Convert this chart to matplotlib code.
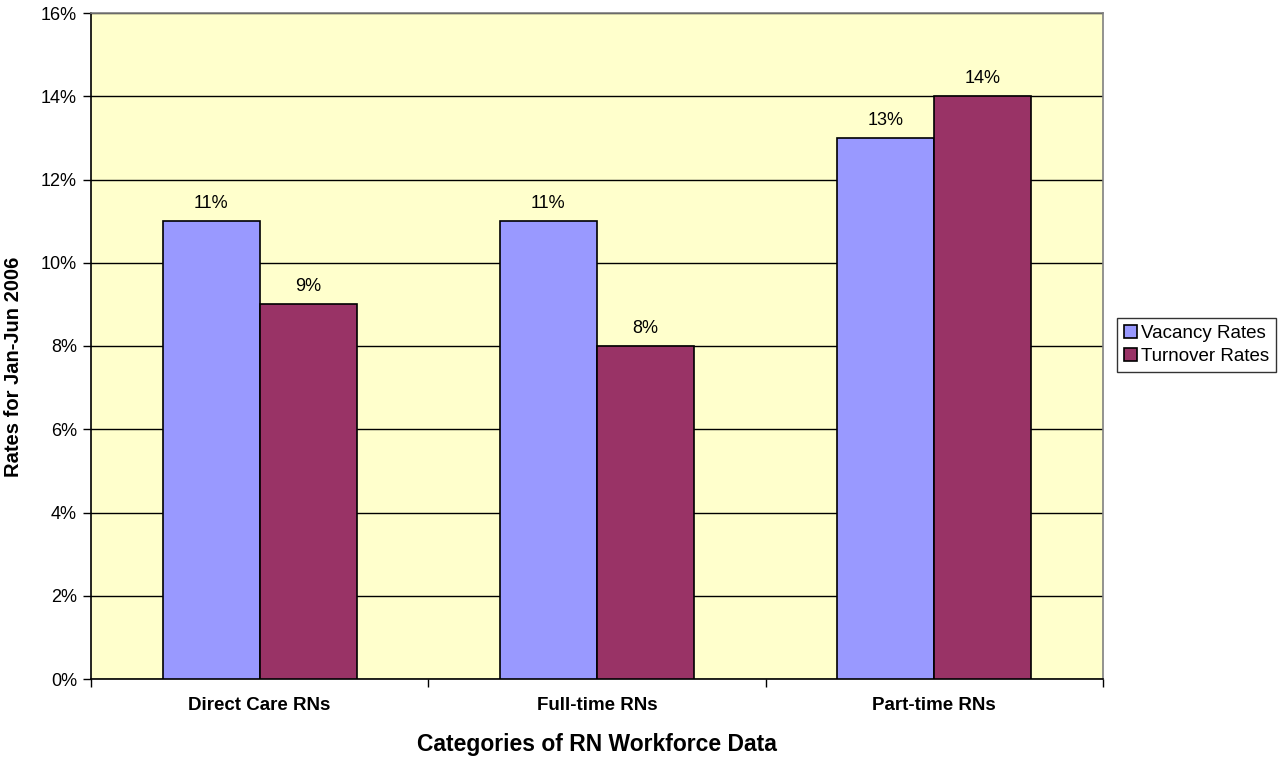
import matplotlib
matplotlib.use("Agg")
import matplotlib.pyplot as plt
import numpy as np
from matplotlib.ticker import FixedLocator, PercentFormatter

categories = ["Direct Care RNs", "Full-time RNs", "Part-time RNs"]
vacancy = [11, 11, 13]
turnover = [9, 8, 14]
series_names = ["Vacancy Rates", "Turnover Rates"]
yticks = [0, 2, 4, 6, 8, 10, 12, 14, 16]

plt.rcParams['font.family'] = ['Liberation Sans', 'DejaVu Sans']

fig = plt.figure(figsize=(12.82, 7.59), dpi=100)
ax = fig.add_axes([91/1282, 80/759, 1012/1282, 666/759])
ax.set_facecolor("#FFFFCC")

x = np.arange(len(categories))
w = 0.288
b1 = ax.bar(x - w/2, vacancy, w, color="#9999FF", edgecolor="black", linewidth=1.2, label=series_names[0], zorder=3)
b2 = ax.bar(x + w/2, turnover, w, color="#993366", edgecolor="black", linewidth=1.2, label=series_names[1], zorder=3)

for bars, vals in ((b1, vacancy), (b2, turnover)):
    for r, v in zip(bars, vals):
        ax.annotate(f"{v}%", (r.get_x() + r.get_width()/2, v), xytext=(0, 9.5),
                    textcoords="offset points", ha="center", va="baseline", fontsize=13)

ax.set_xlim(-0.5, len(categories) - 0.5)
ax.set_ylim(0, 16)
ax.set_yticks(yticks)
ax.yaxis.set_major_formatter(PercentFormatter(decimals=0))
ax.yaxis.grid(True, color="black", linewidth=1, zorder=0)
ax.set_axisbelow(True)

ax.set_xticks(x)
ax.set_xticklabels(categories, fontsize=13.5, fontweight="bold")
ax.xaxis.set_minor_locator(FixedLocator(np.arange(len(categories) + 1) - 0.5))
ax.tick_params(axis="x", which="major", length=0, pad=13)
ax.tick_params(axis="x", which="minor", length=6, width=1, direction="out", color="black")
ax.tick_params(axis="y", length=6, width=1, direction="out", labelsize=13, pad=4)

for s in ("top", "right"):
    ax.spines[s].set_color("#808080")
    ax.spines[s].set_linewidth(1.2)
for s in ("left", "bottom"):
    ax.spines[s].set_color("black")
    ax.spines[s].set_linewidth(1.2)

ax.set_xlabel("Categories of RN Workforce Data", fontsize=16.5, fontweight="bold", labelpad=14)
ax.set_ylabel("Rates for Jan-Jun 2006", fontsize=14.5, fontweight="bold")
ax.yaxis.set_label_coords(-0.067, 0.468)

leg = fig.legend(handles=[b1, b2], labels=series_names, loc="center left",
                 bbox_to_anchor=(1117/1282, 1 - 345/759), frameon=True, fancybox=False,
                 edgecolor="black", fontsize=13.5, handlelength=0.7, handleheight=0.7,
                 handletextpad=0.25, borderpad=0.35, labelspacing=0.35, borderaxespad=0)
leg.get_frame().set_linewidth(1)

fig.savefig("out.png", dpi=100, facecolor="white")
